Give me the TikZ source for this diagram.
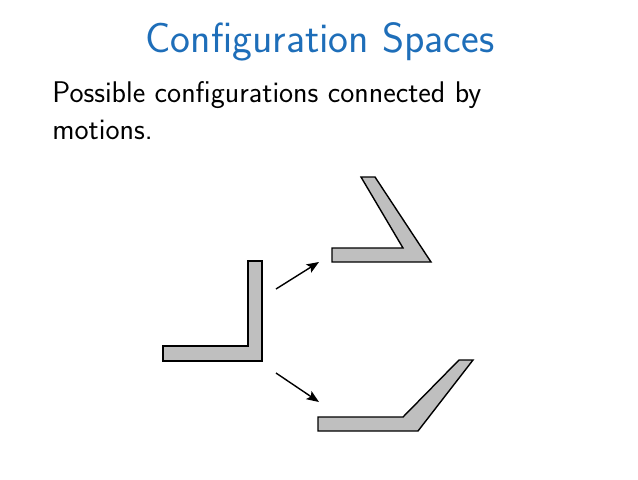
\documentclass[tikz,border=0pt]{standalone}
\usepackage{fontspec}
\usepackage{xcolor}
\usetikzlibrary{arrows.meta}

\definecolor{titleblue}{RGB}{30,110,185}

\begin{document}
\begin{tikzpicture}[
  x=0.5687pt, y=-0.5687pt,
  part/.style={draw=black, fill=gray!50, line width=0.8pt, line join=miter},
  move/.style={-{Stealth[length=7pt, width=5.5pt, inset=1.5pt]}, line width=0.8pt},
  heading/.style={anchor=base, inner sep=0pt, text=titleblue,
                  font=\sffamily\fontsize{24}{28}\selectfont},
  body/.style={anchor=base west, inner sep=0pt,
               font=\sffamily\fontsize{17}{21}\selectfont}
]
  \useasboundingbox (0,0) rectangle (638,479);

  \node[heading] (title) at (320,52) {Configuration Spaces};
  \node[body] (line1) at (52,102) {Possible configurations connected by};
  \node[body] (line2) at (52,139) {motions.};

  % start configuration
  \draw[part] (163,346) -- (248,346) -- (248,261) -- (262,261)
              -- (262,361) -- (163,361) -- cycle;
  % bent upwards
  \draw[part] (332,248) -- (403,248) -- (361,177) -- (375,177)
              -- (431,262) -- (332,262) -- cycle;
  % opened out
  \draw[part] (318,417) -- (403,417) -- (459,360) -- (473,360)
              -- (418,431) -- (318,431) -- cycle;

  \coordinate (upfrom) at (276,289);
  \coordinate (upto)   at (319,262);
  \coordinate (dnfrom) at (276,373);
  \coordinate (dnto)   at (319,402);

  \draw[move] (upfrom) -- (upto);
  \draw[move] (dnfrom) -- (dnto);
\end{tikzpicture}
\end{document}
